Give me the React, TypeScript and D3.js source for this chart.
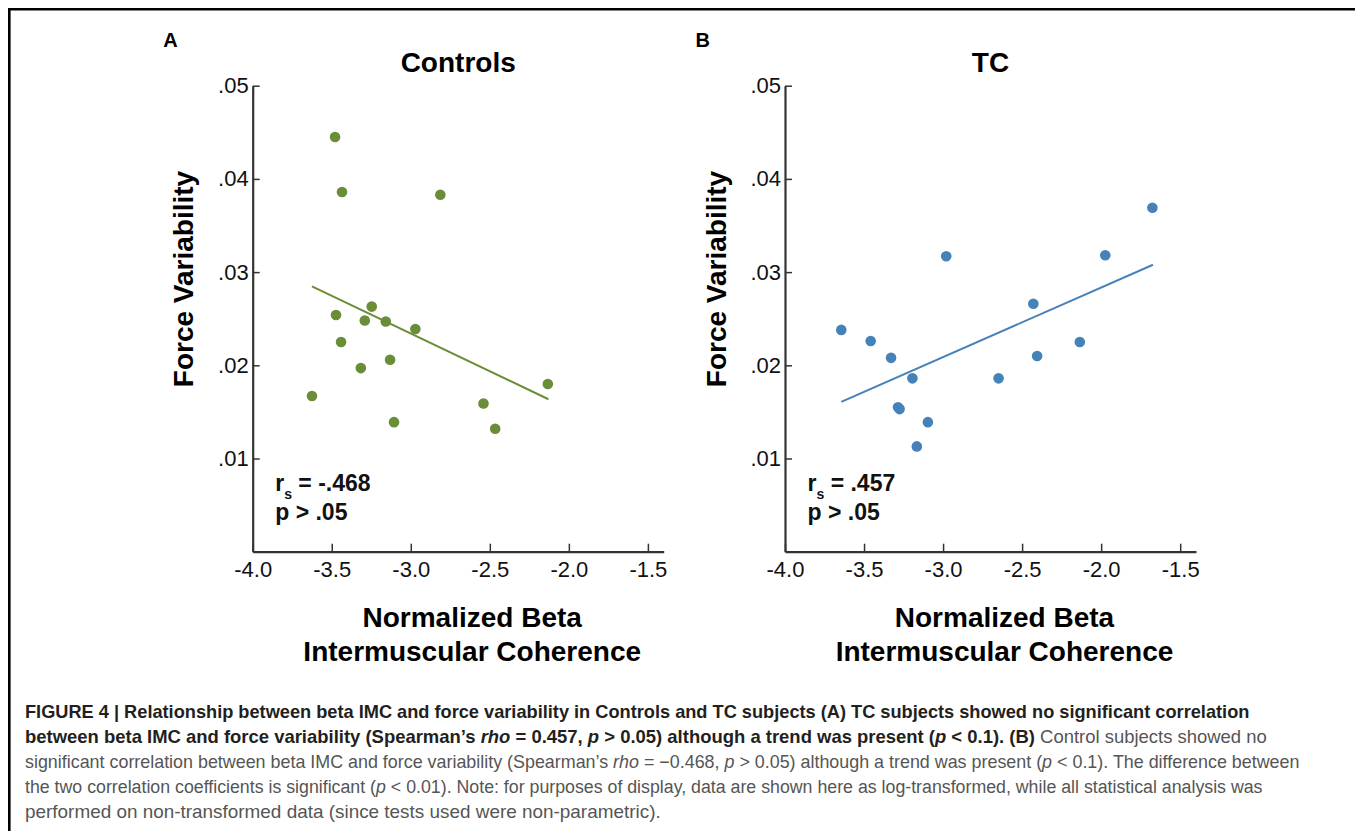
import React, { useEffect, useRef } from 'react';
import * as d3 from 'd3';

const FONT = '"Liberation Sans", Arial, Helvetica, sans-serif';

const xTicks = [-4.0, -3.5, -3.0, -2.5, -2.0, -1.5];
const yTicks = [0.01, 0.02, 0.03, 0.04, 0.05];
const yTickLabels = ['.01', '.02', '.03', '.04', '.05'];

// Controls (panel A)
const controlsX = [-3.479, -3.435, -2.813, -3.247, -3.473, -3.291, -3.158, -2.971, -3.441, -3.131, -3.316, -2.133, -3.625, -2.540, -3.106, -2.466];
const controlsY = [0.0445, 0.0386, 0.0383, 0.0263, 0.0254, 0.0248, 0.0247, 0.0239, 0.0225, 0.0206, 0.0197, 0.0180, 0.0167, 0.0159, 0.0139, 0.0132];
const controlsFitX = [-3.625, -2.129];
const controlsFitY = [0.02847, 0.01636];

// TC (panel B)
const tcX = [-2.980, -1.974, -1.676, -2.429, -3.644, -3.458, -3.329, -2.135, -2.405, -3.194, -2.649, -3.285, -3.275, -3.096, -3.166];
const tcY = [0.0317, 0.0318, 0.0369, 0.0266, 0.0238, 0.0226, 0.0208, 0.0225, 0.0210, 0.0186, 0.0186, 0.0155, 0.0153, 0.0139, 0.0113];
const tcFitX = [-3.644, -1.672];
const tcFitY = [0.01607, 0.03079];

const panels = [
  { letter: 'A', title: 'Controls', left: 252.7, xs: controlsX, ys: controlsY, fitX: controlsFitX, fitY: controlsFitY, color: '#6a8e38', rs: ' = -.468' },
  { letter: 'B', title: 'TC', left: 785, xs: tcX, ys: tcY, fitX: tcFitX, fitY: tcFitY, color: '#4682ba', rs: ' = .457' },
];

type Seg = { t: string; b?: boolean; i?: boolean };
const captionLines: { segs: Seg[]; width: number }[] = [
  { width: 1225, segs: [{ t: 'FIGURE 4 | Relationship between beta IMC and force variability in Controls and TC subjects (A) TC subjects showed no significant correlation', b: true }] },
  { width: 1243, segs: [
    { t: 'between beta IMC and force variability (Spearman\u2019s ', b: true }, { t: 'rho', b: true, i: true },
    { t: ' = 0.457, ', b: true }, { t: 'p', b: true, i: true }, { t: ' > 0.05) although a trend was present (', b: true },
    { t: 'p', b: true, i: true }, { t: ' < 0.1). (B)', b: true }, { t: ' Control subjects showed no' }] },
  { width: 1275, segs: [
    { t: 'significant correlation between beta IMC and force variability (Spearman\u2019s ' }, { t: 'rho', i: true },
    { t: ' = \u22120.468, ' }, { t: 'p', i: true }, { t: ' > 0.05) although a trend was present (' }, { t: 'p', i: true },
    { t: ' < 0.1). The difference between' }] },
  { width: 1238, segs: [
    { t: 'the two correlation coefficients is significant (' }, { t: 'p', i: true },
    { t: ' < 0.01). Note: for purposes of display, data are shown here as log-transformed, while all statistical analysis was' }] },
  { width: 636, segs: [{ t: 'performed on non-transformed data (since tests used were non-parametric).' }] },
];

const top = 85.7;
const bottom = 551.7;
const plotW = 411;

const App = () => {
  const svgRef = useRef<SVGSVGElement>(null);

  useEffect(() => {
    const svg = d3.select(svgRef.current);
    svg.selectAll('*').remove();

    // frame
    svg.append('path')
      .attr('d', 'M9.3,831V9.3H1355')
      .attr('fill', 'none')
      .attr('stroke', '#000')
      .attr('stroke-width', 2.6);

    panels.forEach(p => {
      const g = svg.append('g').attr('transform', `translate(${p.left},0)`);
      const x = d3.scaleLinear().domain([-4.0, -1.4]).range([0, plotW]);
      const y = d3.scaleLinear().domain([0, 0.05]).range([bottom, top]);

      const xAxis = g.append('g')
        .attr('transform', `translate(0,${bottom})`)
        .call(d3.axisBottom(x).tickValues(xTicks).tickFormat(d => (+d).toFixed(1))
          .tickSizeInner(-8).tickSizeOuter(0).tickPadding(10));
      const yAxis = g.append('g')
        .call(d3.axisLeft(y).tickValues(yTicks).tickFormat((d, i) => yTickLabels[i])
          .tickSizeInner(-7).tickSizeOuter(0).tickPadding(4));

      [xAxis, yAxis].forEach(a => {
        a.attr('font-size', 22).attr('font-family', FONT);
        a.selectAll('text').attr('fill', '#111');
        a.select('.domain').attr('stroke', '#333').attr('stroke-width', 2.2);
        a.selectAll('.tick line').attr('stroke', '#333').attr('stroke-width', 1.5);
      });

      const line = d3.line<number>()
        .x(d => x(d))
        .y((d, i) => y(p.fitY[i]));
      g.append('path')
        .attr('d', line(p.fitX))
        .attr('fill', 'none')
        .attr('stroke', p.color)
        .attr('stroke-width', 2);

      g.selectAll('.dot')
        .data(p.xs)
        .enter().append('circle')
        .attr('class', 'dot')
        .attr('cx', d => x(d))
        .attr('cy', (d, i) => y(p.ys[i]))
        .attr('r', 5.3)
        .attr('fill', p.color);

      // titles
      g.append('text')
        .attr('x', plotW / 2).attr('y', 71.7)
        .attr('text-anchor', 'middle')
        .attr('font-family', FONT).attr('font-weight', 'bold').attr('font-size', 28)
        .text(p.title);

      g.append('text')
        .attr('x', -89.5).attr('y', 47)
        .attr('font-family', FONT).attr('font-weight', 'bold').attr('font-size', 20)
        .text(p.letter);

      g.append('text')
        .attr('transform', `translate(-59.5,279) rotate(-90)`)
        .attr('text-anchor', 'middle')
        .attr('font-family', FONT).attr('font-weight', 'bold').attr('font-size', 28)
        .text('Force Variability');

      const xt = g.append('text')
        .attr('text-anchor', 'middle')
        .attr('font-family', FONT).attr('font-weight', 'bold').attr('font-size', 28);
      xt.append('tspan').attr('x', plotW / 2 + 14).attr('y', 626.7).text('Normalized Beta');
      xt.append('tspan').attr('x', plotW / 2 + 14).attr('y', 661).text('Intermuscular Coherence');

      // stats
      const st = g.append('text')
        .attr('font-family', FONT).attr('font-weight', 'bold').attr('font-size', 23).attr('fill', '#111');
      st.append('tspan').attr('x', 22.5).attr('y', 490.7).text('r');
      st.append('tspan').attr('dy', 8).attr('font-size', 14).text('s');
      st.append('tspan').attr('dy', -8).text(p.rs);
      g.append('text')
        .attr('x', 22.5).attr('y', 520)
        .attr('font-family', FONT).attr('font-weight', 'bold').attr('font-size', 23).attr('fill', '#111')
        .text('p > .05');
    });

    // caption
    captionLines.forEach((ln, li) => {
      const cg = svg.append('g');
      const t = cg.append('text')
        .attr('x', 0).attr('y', 0)
        .attr('font-family', FONT).attr('font-size', 18);
      ln.segs.forEach(s => {
        t.append('tspan')
          .attr('font-weight', s.b ? 'bold' : 'normal')
          .attr('font-style', s.i ? 'italic' : 'normal')
          .attr('fill', s.b ? '#231f20' : '#555555')
          .text(s.t);
      });
      const w = (t.node() as SVGTextElement).getComputedTextLength();
      const sx = w > 0 ? ln.width / w : 1;
      cg.attr('transform', `translate(25,${718 + li * 25}) scale(${sx},1)`);
    });
  }, []);

  return (
    <svg
      ref={svgRef}
      width={1355}
      height={831}
      style={{ position: 'absolute', left: 0, top: 0, background: '#fff' }}
    />
  );
};

export default App;
